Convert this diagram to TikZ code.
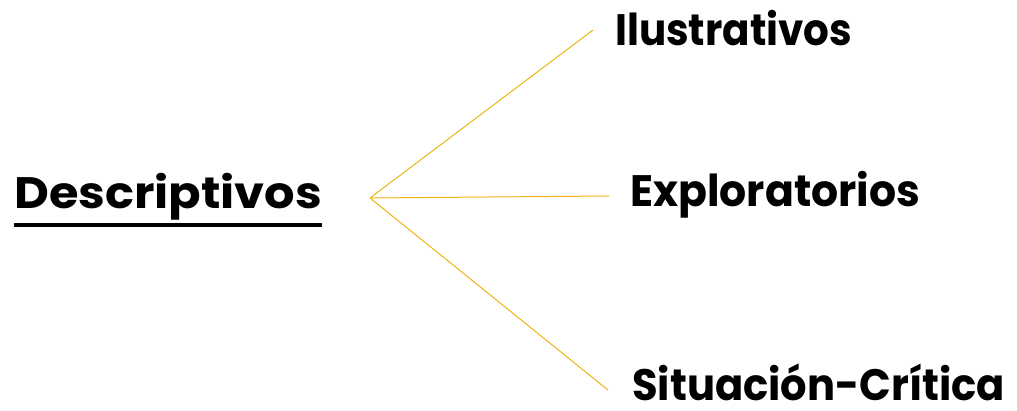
\documentclass[tikz,border=0pt]{standalone}
\usepackage{fontspec}
\setmainfont{Poppins}
\definecolor{linegold}{RGB}{240,178,20}
\newcommand{\fitw}[2]{\resizebox{#1}{\height}{#2}}
\tikzset{
  lbl/.style={anchor=base west, inner sep=0pt, font=\fontsize{44}{50}\selectfont\bfseries},
  branch/.style={draw=linegold, line width=1pt}
}
\begin{document}
\begin{tikzpicture}[x=1pt,y=-1pt]
\useasboundingbox (0,0) rectangle (1017,411);
\coordinate (hub) at (370,198);
\node[lbl] (desc) at (14,209) {\fitw{308pt}{Descriptivos}};
\draw[line width=4.5pt] ([yshift=-16pt]desc.base west) -- ([yshift=-16pt]desc.base east);
\node[lbl] (ilu) at (615,46) {\fitw{237pt}{Ilustrativos}};
\node[lbl] (exp) at (630,207) {\fitw{290pt}{Exploratorios}};
\node[lbl] (sit) at (632,401) {\fitw{373pt}{Situación-Crítica}};
\coordinate (e1) at (593,30);
\coordinate (e2) at (609,196);
\coordinate (e3) at (608,390);
\draw[branch] (hub) -- (e1);
\draw[branch] (hub) -- (e2);
\draw[branch] (hub) -- (e3);
\end{tikzpicture}
\end{document}
